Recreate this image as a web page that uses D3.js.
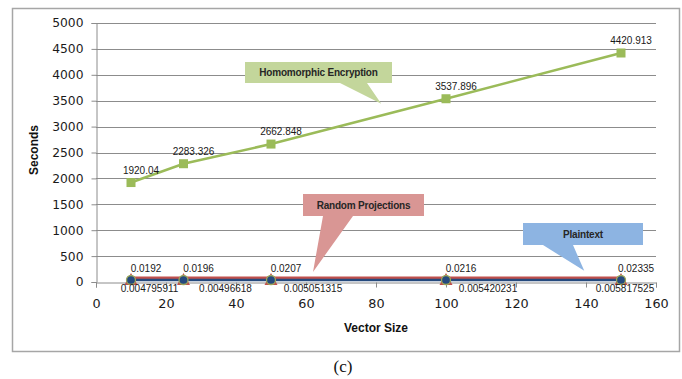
<!DOCTYPE html>
<html>
<head>
<meta charset="utf-8">
<script src="https://cdn.jsdelivr.net/npm/d3@7/dist/d3.min.js"></script>
<style>
  html, body { margin: 0; padding: 0; background: #fff; }
  svg { display: block; }
</style>
</head>
<body>
<svg id="chart" width="682" height="379"></svg>
<script>
// Run time (seconds) against vector size for three approaches
const vectorSizes = [10, 25, 50, 100, 150];
const homomorphic = [1920.04, 2283.326, 2662.848, 3537.896, 4420.913];
const randomProj = [0.0192, 0.0196, 0.0207, 0.0216, 0.02335];
const plaintext = [0.004795911, 0.00496618, 0.005051315, 0.005420231, 0.005817525];

const xTicks = [0, 20, 40, 60, 80, 100, 120, 140, 160];
const yTicks = [0, 500, 1000, 1500, 2000, 2500, 3000, 3500, 4000, 4500, 5000];

const seriesNames = ["Homomorphic Encryption", "Random Projections", "Plaintext"];
const xTitle = "Vector Size";
const yTitle = "Seconds";
const caption = "(c)";

const svg = d3.select("#chart");
const plot = { left: 96, right: 656, top: 23, bottom: 282 };

const x = d3.scaleLinear().domain([0, 160]).range([plot.left, plot.right]);
const y = d3.scaleLinear().domain([0, 5000]).range([plot.bottom, plot.top]);

const GRID = "#8c8c8c";
const GREEN = "#9bbb59", RED = "#c0504d", NAVY = "#254a7e";

// chart frame
svg.append("rect")
  .attr("x", 12.5).attr("y", 8.5).attr("width", 667).attr("height", 343)
  .attr("fill", "#fff").attr("stroke", "#a6a6a6").attr("stroke-width", 1.5);

// horizontal gridlines
svg.append("g").selectAll("line").data(yTicks.filter(d => d > 0)).join("line")
  .attr("x1", plot.left).attr("x2", plot.right)
  .attr("y1", d => Math.round(y(d)) + 0.5).attr("y2", d => Math.round(y(d)) + 0.5)
  .attr("stroke", GRID).attr("stroke-width", 1);

// y axis
const yAxis = svg.append("g")
  .attr("transform", `translate(${plot.left + 0.5},0)`)
  .call(d3.axisLeft(y).tickValues(yTicks).tickSize(5).tickPadding(8).tickFormat(d3.format("d")));
yAxis.select(".domain").attr("stroke", GRID);
yAxis.selectAll(".tick line").attr("stroke", GRID);
yAxis.selectAll("text")
  .attr("font-family", "'DejaVu Sans', sans-serif").attr("font-size", 12.3).attr("fill", "#1a1a1a");

// x axis
const xAxis = svg.append("g")
  .attr("transform", `translate(0,${plot.bottom + 0.5})`)
  .call(d3.axisBottom(x).tickValues(xTicks).tickSize(5).tickPadding(11).tickFormat(d3.format("d")));
xAxis.select(".domain").attr("stroke", GRID);
xAxis.selectAll(".tick line").attr("stroke", GRID);
xAxis.selectAll("text")
  .attr("font-family", "'DejaVu Sans', sans-serif").attr("font-size", 12.8).attr("fill", "#1a1a1a");

// axis titles
svg.append("text")
  .attr("x", 376).attr("y", 332).attr("text-anchor", "middle")
  .attr("font-family", "'Liberation Sans', Arial, sans-serif").attr("font-weight", "bold")
  .attr("font-size", 12).attr("fill", "#111").text(xTitle);
svg.append("text")
  .attr("transform", "translate(38,150) rotate(-90)").attr("text-anchor", "middle")
  .attr("font-family", "'Liberation Sans', Arial, sans-serif").attr("font-weight", "bold")
  .attr("font-size", 12).attr("fill", "#111").text(yTitle);

// figure caption
svg.append("text")
  .attr("x", 343).attr("y", 372).attr("text-anchor", "middle")
  .attr("font-family", "'Liberation Serif', 'Times New Roman', serif")
  .attr("font-size", 17).attr("fill", "#111").text(caption);

const line = d3.line().x(d => x(d[0])).y(d => y(d[1]));
const pts = vals => vectorSizes.map((v, i) => [v, vals[i]]);

// the two sub-second series sit on the baseline; stack their strokes slightly
const lineLift = { rp: -4, pt: -2 };

// Homomorphic encryption series
svg.append("path").datum(pts(homomorphic)).attr("d", line)
  .attr("fill", "none").attr("stroke", GREEN).attr("stroke-width", 2.5);

// Random projections series
svg.append("path").datum(pts(randomProj)).attr("d", line)
  .attr("transform", `translate(0,${lineLift.rp})`)
  .attr("fill", "none").attr("stroke", RED).attr("stroke-width", 2.8);

// Plaintext series
svg.append("path").datum(pts(plaintext)).attr("d", line)
  .attr("transform", `translate(0,${lineLift.pt})`)
  .attr("fill", "none").attr("stroke", NAVY).attr("stroke-width", 2.6);

// markers
svg.append("g").selectAll("rect").data(pts(homomorphic)).join("rect")
  .attr("x", d => x(d[0]) - 4.5).attr("y", d => y(d[1]) - 4.5)
  .attr("width", 9).attr("height", 9).attr("fill", GREEN);

svg.append("g").selectAll("path").data(pts(randomProj)).join("path")
  .attr("d", d => {
    const cx = x(d[0]), cy = y(d[1]);
    return `M${cx},${cy - 9}L${cx + 6.5},${cy + 3}L${cx - 6.5},${cy + 3}Z`;
  })
  .attr("fill", RED);

svg.append("g").selectAll("circle").data(pts(plaintext)).join("circle")
  .attr("cx", d => x(d[0])).attr("cy", d => y(d[1]) - 2).attr("r", 4.5)
  .attr("fill", NAVY).attr("stroke", "#9aa65a").attr("stroke-width", 1.3);

// data labels: offset from the marker, kept inside the plot and apart from each other
const labelFont = "'Liberation Sans', Arial, sans-serif";
function labels(vals, dx, dy, width, gap) {
  const cx = vals.map((v, i) => Math.min(x(vectorSizes[i]) + dx, plot.right - width / 2));
  for (let i = cx.length - 2; i >= 0; i--) {
    if (cx[i + 1] - cx[i] < gap) cx[i] = cx[i + 1] - gap;
  }
  svg.append("g").selectAll("text").data(pts(vals)).join("text")
    .attr("x", (d, i) => cx[i])
    .attr("y", d => y(d[1]) + dy)
    .attr("text-anchor", "middle")
    .attr("font-family", labelFont).attr("font-size", 10).attr("fill", "#1a1a1a")
    .text(d => String(d[1]));
}
labels(homomorphic, 10, -9, 44, 0);
labels(randomProj, 15, -9.5, 40, 0);
labels(plaintext, 42, 10.5, 62, 76);

// callouts naming each series
const callouts = [
  { name: seriesNames[0], fill: "#c3d69b", box: [245, 62, 392, 83], tail: [340, 367], tip: [81.5, 3440] },
  { name: seriesNames[1], fill: "#d99694", box: [303, 194, 424, 216], tail: [323, 353], tip: [62, 195] },
  { name: seriesNames[2], fill: "#8db4e2", box: [523, 223, 643, 245], tail: [543, 573], tip: [139.5, 215] }
];
const cg = svg.append("g");
callouts.forEach(c => {
  const [x0, y0, x1, y1] = c.box;
  const tx = x(c.tip[0]), ty = y(c.tip[1]);
  cg.append("path")
    .attr("d", `M${x0},${y0}H${x1}V${y1}H${c.tail[1]}L${tx},${ty}L${c.tail[0]},${y1}H${x0}Z`)
    .attr("fill", c.fill);
  cg.append("text")
    .attr("x", (x0 + x1) / 2).attr("y", (y0 + y1) / 2 + 3.6)
    .attr("text-anchor", "middle")
    .attr("font-family", labelFont).attr("font-weight", "bold")
    .attr("font-size", 10).attr("letter-spacing", -0.2).attr("fill", "#262626")
    .text(c.name);
});
</script>
</body>
</html>
